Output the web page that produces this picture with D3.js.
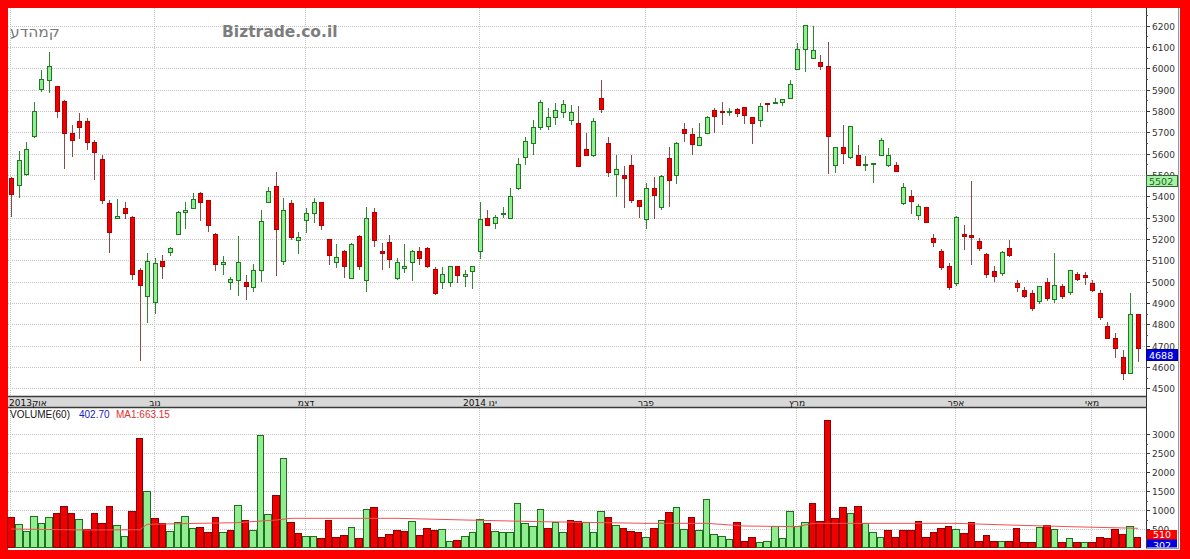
<!DOCTYPE html>
<html><head><meta charset="utf-8">
<script src="https://cdn.jsdelivr.net/npm/d3@7"></script>
<style>html,body{margin:0;padding:0;background:#ff0000;}svg{display:block}</style>
</head><body>
<svg id="c" width="1190" height="559"></svg>
<script>
// ---------- DATA ----------
const opens  = [5484,5449,5503,5682,5898,5940,5912,5846,5696,5748,5748,5654,5574,5364,5295,5343,5301,5054,4932,4904,
  5093,5135,5223,5323,5342,5414,5378,5222,5081,4995,5004,4997,4973,5054,5372,5445,5093,5364,5192,5285,
  5318,5370,5195,5090,5143,5015,5210,5007,5323,5143,5184,5015,5062,5090,5143,5156,5059,4995,4995,5070,
  5026,5046,5143,5297,5273,5313,5297,5434,5582,5645,5720,5729,5767,5790,5757,5743,5617,5593,5856,5645,
  5504,5495,5543,5378,5293,5434,5348,5578,5496,5715,5687,5640,5695,5804,5796,5790,5807,5815,5768,5754,
  5835,5834,5840,5859,5995,6088,6046,6026,6007,5546,5629,5582,5593,5545,5551,5593,5543,5543,5368,5401,
  5312,5345,5200,5139,5073,4989,5223,5214,5190,5125,5045,5036,5153,4993,4956,4946,4909,4998,4914,4975,
  4951,5031,5030,4993,4946,4791,4734,4645,4570,4847];
const highs  = [5492,5613,5655,5842,5991,6076,5916,5851,5734,5790,5767,5663,5593,5382,5386,5374,5307,5064,5135,5109,
  5125,5163,5331,5374,5414,5420,5382,5228,5120,5023,5214,5031,5081,5335,5445,5515,5390,5382,5234,5343,
  5390,5373,5200,5176,5148,5181,5218,5351,5343,5179,5218,5112,5175,5148,5163,5162,5070,5070,5072,5072,
  5054,5073,5374,5335,5312,5351,5437,5578,5679,5757,5851,5813,5837,5851,5827,5823,5695,5767,5945,5679,
  5593,5542,5593,5382,5463,5491,5499,5632,5655,5745,5718,5742,5776,5815,5843,5812,5813,5818,5770,5835,
  5837,5862,5856,5945,6117,6202,6198,6062,6124,5632,5734,5730,5640,5590,5556,5674,5625,5559,5462,5429,
  5362,5350,5223,5153,5087,5308,5265,5471,5204,5134,5073,5144,5195,5008,4975,4960,4923,5017,5134,4990,
  4970,5045,5045,5008,4960,4812,4760,4679,4945,4847];
const lows   = [5304,5390,5495,5673,5888,5884,5767,5528,5584,5668,5617,5476,5364,5134,5293,5292,5007,4629,4805,4848,
  5012,5120,5218,5245,5340,5285,5234,5051,5031,4961,4934,4914,4953,5000,5368,5028,5078,5195,5129,5226,
  5273,5242,5078,5062,5015,5012,5054,4950,5163,5054,5065,5007,5042,5004,5078,5062,4937,4964,4976,4995,
  4973,4964,5104,5260,5246,5297,5293,5429,5546,5593,5710,5710,5734,5767,5734,5537,5593,5584,5791,5491,
  5395,5343,5367,5297,5245,5293,5335,5348,5456,5655,5593,5635,5692,5698,5734,5776,5770,5737,5645,5726,
  5796,5832,5823,5856,5991,5984,6043,5991,5504,5507,5551,5573,5540,5520,5461,5590,5536,5513,5359,5317,
  5287,5273,5162,5054,4961,4979,5148,5078,5143,5017,4998,5027,5115,4951,4923,4862,4895,4909,4900,4917,
  4937,5003,4985,4950,4820,4734,4640,4539,4570,4625];
const closes = [5409,5566,5620,5795,5945,6006,5799,5692,5659,5720,5651,5603,5382,5231,5304,5317,5031,4981,5093,5086,
  5070,5156,5323,5335,5386,5372,5265,5078,5090,5011,5090,4976,5054,5281,5421,5242,5335,5208,5205,5320,
  5370,5265,5121,5114,5070,5176,5070,5297,5192,5133,5104,5090,5070,5143,5109,5070,4945,5034,5070,5028,
  5034,5070,5292,5262,5299,5320,5401,5550,5655,5724,5837,5771,5804,5832,5790,5537,5593,5748,5807,5512,
  5523,5481,5382,5354,5434,5402,5491,5476,5645,5692,5643,5676,5770,5773,5791,5795,5789,5777,5742,5820,
  5831,5838,5851,5924,6088,6198,6082,6007,5679,5629,5601,5726,5543,5550,5554,5660,5593,5515,5443,5373,
  5354,5279,5181,5064,4970,5298,5209,5205,5157,5031,5026,5134,5120,4970,4932,4876,4979,4923,4984,4930,
  5054,5012,5020,4960,4834,4734,4687,4570,4847,4688];
const volumes = [807,631,447,842,667,807,930,1105,912,754,500,912,649,1105,605,316,974,2900,1500,798,
  649,447,693,842,518,544,430,825,430,474,1123,737,474,2970,895,1400,2380,693,386,325,
  325,254,737,298,342,544,272,1018,1070,298,368,474,447,711,342,518,474,500,193,211,
  316,430,754,667,456,412,412,1193,649,579,1018,518,693,430,737,711,693,412,982,825,
  605,535,456,431,281,518,737,956,1088,491,807,474,1300,368,316,228,693,193,298,167,
  193,579,254,974,579,675,1175,711,3370,798,1088,930,1105,667,412,298,474,298,474,474,
  711,281,431,518,579,491,404,693,193,342,184,193,184,518,149,167,544,605,491,167,
  254,167,167,167,298,254,491,368,579,302];
// volume moving average line, read at sample bars
const maIndex  = [0,10,17,18,25,30,35,37,51,60,70,84,92,97,104,106,125,132,140,149];
const maValues = [500,474,480,623,649,667,737,781,781,737,693,649,649,579,561,649,649,605,561,518];
const priceTicks = [4500,4600,4700,4800,4900,5000,5100,5200,5300,5400,5500,5600,5700,5800,5900,6000,6100,6200];
const volTicks = [500,1000,1500,2000,2500,3000];
const monthLabels = ["2013אוק","נוב","דצמ","2014 ינו","פבר","מרץ","אפר","מאי"];
const monthStart  = [0,19,39,62,84,104,125,143];
const lastPriceTag = 4688, maPriceTag = 5502;
const volTagMA = 510, volTagLast = 302;
const legendTitle = "VOLUME(60)", legendVol = "402.70", legendMA = "MA1:663.15";
const stockName = "קמהדע", siteName = "Biztrade.co.il";

// ---------- DRAW ----------
const N = closes.length;
const svg = d3.select('#c');
const L = 8, R = 1146, PT = 8, PB = 396, VT = 408, VB = 548;
svg.append('rect').attr('x',8).attr('y',8).attr('width',1172).attr('height',542).attr('fill','#fff');

const x = d3.scaleBand().domain(d3.range(N)).range([7.4, 1141.4]).padding(0);
const bw = x.bandwidth();
const cx = i => Math.round(x(i) + bw/2);
const py = d3.scaleLinear().domain([4500,6200]).range([388.3,25.5]);
const vy = d3.scaleLinear().domain([0,3000]).range([548,434]);

const grid = svg.append('g').attr('stroke','#c4c4c4').attr('stroke-width',1).attr('stroke-dasharray','1,1').attr('shape-rendering','crispEdges');
priceTicks.forEach(t => grid.append('line').attr('x1',L).attr('x2',R).attr('y1',Math.round(py(t))+0.5).attr('y2',Math.round(py(t))+0.5));
volTicks.forEach(t => grid.append('line').attr('x1',L).attr('x2',R).attr('y1',Math.round(vy(t))+0.5).attr('y2',Math.round(vy(t))+0.5));
monthStart.forEach(i => {
  grid.append('line').attr('x1',cx(i)-0.5).attr('x2',cx(i)-0.5).attr('y1',PT).attr('y2',PB);
  grid.append('line').attr('x1',cx(i)-0.5).attr('x2',cx(i)-0.5).attr('y1',VT).attr('y2',VB);
});

// titles
svg.append('text').attr('x',10).attr('y',37).attr('font-family','DejaVu Sans').attr('font-size',15.5).attr('fill','#7a7a7a').text(stockName);
svg.append('text').attr('x',222).attr('y',37).attr('font-family','DejaVu Sans').attr('font-weight','bold').attr('font-size',15.5).attr('fill','#7d7d7d').text(siteName);

// candles
const data = d3.range(N).map(i => ({i, o:opens[i], h:highs[i], l:lows[i], c:closes[i]}));
const cg = svg.append('g').attr('shape-rendering','crispEdges');
data.forEach(d => {
  const up = d.c >= d.o;
  const xc = cx(d.i);
  cg.append('line').attr('x1',xc+0.5).attr('x2',xc+0.5).attr('y1',py(d.h)).attr('y2',py(d.l))
    .attr('stroke', up ? '#2f8a2f' : '#8a4a4a').attr('stroke-width',1);
  const top = py(Math.max(d.o,d.c)), bot = py(Math.min(d.o,d.c));
  cg.append('rect').attr('x',xc-1.5).attr('y',top).attr('width',4).attr('height',Math.max(1,bot-top))
    .attr('fill', up ? '#90ee90' : '#ee0000').attr('stroke', up ? '#1f7a1f' : '#b00000').attr('stroke-width',1);
});

// time band
svg.append('rect').attr('x',L).attr('y',PB).attr('width',R-L).attr('height',VT-PB).attr('fill','#d8d8d8');
svg.append('line').attr('x1',L).attr('x2',R).attr('y1',PB+0.5).attr('y2',PB+0.5).attr('stroke','#3a3a3a').attr('stroke-width',1.5);
svg.append('line').attr('x1',L).attr('x2',R).attr('y1',VT-0.5).attr('y2',VT-0.5).attr('stroke','#3a3a3a').attr('stroke-width',1.5);
monthLabels.forEach((m,k) => {
  const t = svg.append('text').attr('y',405.5).attr('font-family','DejaVu Sans').attr('font-size',9).attr('fill','#111')
    .attr('direction','ltr').text(m);
  if (k === 0) t.attr('x',9).attr('text-anchor','start'); else t.attr('x',cx(monthStart[k])).attr('text-anchor','middle');
});

// volume bars
const vg = svg.append('g').attr('shape-rendering','crispEdges');
d3.range(N).forEach(i => {
  const up = i === 0 ? closes[0] >= opens[0] : closes[i] >= closes[i-1];
  const x0 = Math.round(x(i)), x1 = Math.round(x(i) + bw);
  const top = Math.round(vy(volumes[i]));
  vg.append('rect').attr('x',x0+0.5).attr('y',top+0.5).attr('width',x1-x0-1).attr('height',VB-top-1)
    .attr('fill', up ? '#90ee90' : '#ee0000').attr('stroke', up ? '#1f6f1f' : '#900000').attr('stroke-width',1);
});
// MA line
svg.append('path').datum(maIndex.map((i,k)=>[cx(i), vy(maValues[k])]))
  .attr('d', d3.line()).attr('fill','none').attr('stroke','#f05050').attr('stroke-width',1);

// legend
const lg = svg.append('text').attr('x',10).attr('y',418).attr('font-family','Liberation Sans').attr('font-size',10);
lg.append('tspan').attr('fill','#111').text(legendTitle);
lg.append('tspan').attr('x',79).attr('fill','#2020c0').text(legendVol);
lg.append('tspan').attr('x',116).attr('fill','#e03030').text(legendMA);

// right axis panel
svg.append('rect').attr('x',R).attr('y',8).attr('width',1179-R).attr('height',541).attr('fill','#fff');
svg.append('line').attr('x1',R+0.5).attr('x2',R+0.5).attr('y1',8).attr('y2',VB).attr('stroke','#333');
svg.append('line').attr('x1',1178.5).attr('x2',1178.5).attr('y1',8).attr('y2',VB).attr('stroke','#999');
svg.append('line').attr('x1',R).attr('x2',1179).attr('y1',VB+0.5).attr('y2',VB+0.5).attr('stroke','#999');
const ax = svg.append('g').attr('font-family','DejaVu Sans').attr('font-size',9).attr('fill','#333');
priceTicks.forEach(t => {
  const y = Math.round(py(t))+0.5;
  ax.append('line').attr('x1',R).attr('x2',R+4).attr('y1',y).attr('y2',y).attr('stroke','#333');
  ax.append('line').attr('x1',R).attr('x2',R+2).attr('y1',Math.round(py(t+50))+0.5).attr('y2',Math.round(py(t+50))+0.5).attr('stroke','#555');
  if (t !== 5500) ax.append('text').attr('x',1152).attr('y',y+3.5).text(t);
});
volTicks.forEach(t => {
  const y = Math.round(vy(t))+0.5;
  ax.append('line').attr('x1',R).attr('x2',R+4).attr('y1',y).attr('y2',y).attr('stroke','#333');
  ax.append('line').attr('x1',R).attr('x2',R+2).attr('y1',Math.round(vy(t-250))+0.5).attr('y2',Math.round(vy(t-250))+0.5).attr('stroke','#555');
  if (t !== 500) ax.append('text').attr('x',1152).attr('y',y+3.5).text(t);
});
// partially hidden labels behind the tags (only their top shows)
svg.append('defs').append('clipPath').attr('id','c5500').append('rect').attr('x',1146).attr('y',160).attr('width',33).attr('height',Math.round(py(maPriceTag))+1-160);
svg.select('defs').append('clipPath').attr('id','c500').append('rect').attr('x',1146).attr('y',515).attr('width',33).attr('height',15);
ax.append('text').attr('clip-path','url(#c5500)').attr('x',1152).attr('y',Math.round(py(5500))+4).text(5500);
ax.append('text').attr('clip-path','url(#c500)').attr('x',1152).attr('y',Math.round(vy(500))+4).text(500);

// price tags
function tag(yTop, h, txt, fill, stroke, color){
  const g = svg.append('g');
  g.append('rect').attr('x',1146.5).attr('y',yTop+0.5).attr('width',31).attr('height',h).attr('fill',fill).attr('stroke',stroke);
  g.append('text').attr('x',1149).attr('y',yTop+h-1.5).attr('font-family','DejaVu Sans').attr('font-size',9.5).attr('fill',color).text(txt);
  return g;
}
tag(Math.round(py(maPriceTag))+1, 11, maPriceTag, '#a8f0a8', '#2a6a2a', '#1a6a1a');
tag(Math.round(py(lastPriceTag))+1, 11, lastPriceTag, '#0000e0', '#000080', '#ffffff');
// volume tags
svg.select('defs').append('clipPath').attr('id','vclip').append('rect').attr('x',1146).attr('y',530).attr('width',32).attr('height',17.5);
const vt = svg.append('g').attr('clip-path','url(#vclip)');
vt.append('rect').attr('x',1147).attr('y',539).attr('width',30).attr('height',10).attr('fill','#0000e0');
vt.append('text').attr('x',1153).attr('y',548.5).attr('font-family','DejaVu Sans').attr('font-size',9.5).attr('fill','#fff').text(volTagLast);
vt.append('rect').attr('x',1147).attr('y',530).attr('width',30).attr('height',9.5).attr('fill','#ff0000');
vt.append('text').attr('x',1153).attr('y',538).attr('font-family','DejaVu Sans').attr('font-size',9.5).attr('fill','#fff').text(volTagMA);
</script>
</body></html>
